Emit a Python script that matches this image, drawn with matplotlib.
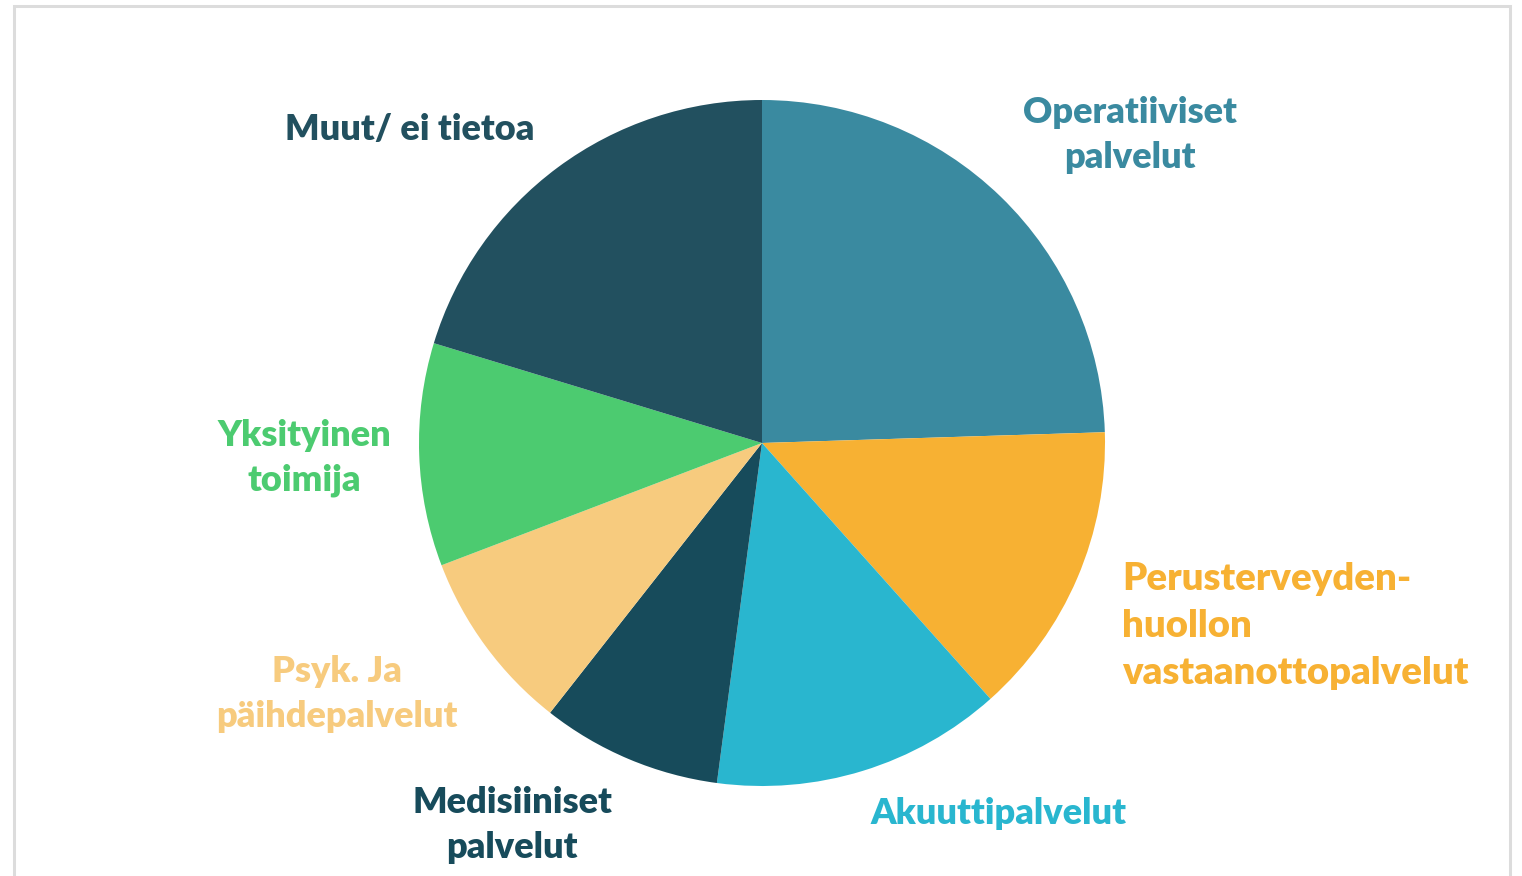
import numpy as np
import matplotlib.pyplot as plt
from matplotlib.patches import Rectangle

# slice shares (%), clockwise from 12 o'clock
categories = ['Operatiiviset\npalvelut',
              'Perusterveyden-\nhuollon\nvastaanottopalvelut',
              'Akuuttipalvelut',
              'Medisiiniset\npalvelut',
              'Psyk. Ja\npäihdepalvelut',
              'Yksityinen\ntoimija',
              'Muut/ ei tietoa']
shares = [24.5, 13.9, 13.7, 8.5, 8.6, 10.5, 20.3]
colors = ['#3A8AA0', '#F7B133', '#29B6CF', '#174B5B', '#F7CB7E', '#4CCB70', '#22505F']

# label anchor points in pixels (x, y from top)
label_pos = [(1130, 135), (1122, 626), (998, 813), (512, 825),
             (337, 694), (304, 458), (410, 129)]
label_ha = ['center', 'left', 'center', 'center', 'center', 'center', 'center']
label_size = [26, 27.5, 26, 26, 26, 26, 26]

W, H = 1522, 876
fig = plt.figure(figsize=(W / 100, H / 100), dpi=100)
ax = fig.add_axes([0, 0, 1, 1])

# card frame
ax.add_patch(Rectangle((14, -20), 1496, H - 6 + 20, fill=False,
                       edgecolor='#DCDCDC', linewidth=2.2, zorder=0))

ax.pie(shares, colors=colors, startangle=90, counterclock=False,
       center=(762, H - 443), radius=343, frame=True,
       wedgeprops=dict(linewidth=0))
ax.set_xlim(0, W)
ax.set_ylim(0, H)
ax.set_aspect('equal')
ax.axis('off')

for lab, (px, py), ha, c, fs in zip(categories, label_pos, label_ha, colors, label_size):
    ax.text(px, H - py, lab, ha=ha, va='center', multialignment=ha,
            color=c, fontsize=fs, fontweight='heavy', family='Lato',
            linespacing=1.45)

fig.savefig('out.png', dpi=100)
